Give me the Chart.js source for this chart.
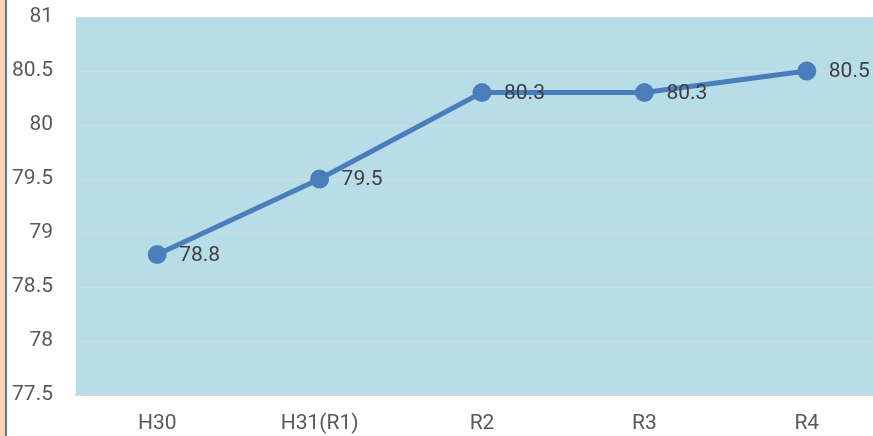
<!DOCTYPE html>
<html>
<head>
<meta charset="utf-8">
<script src="https://cdn.jsdelivr.net/npm/chart.js@4"></script>
<style>
  html, body { margin: 0; padding: 0; background: #fff; }
  #edge { position: absolute; left: 0; top: 0; width: 5px; height: 436px; background: #fcd5b5; z-index: 2; }
  #edgeLine { position: absolute; left: 5px; top: 0; width: 2px; height: 436px; background: #4a7ebb; z-index: 2; }
  #clip { position: absolute; left: 8px; top: 0; width: 865px; height: 436px; overflow: hidden; }
</style>
</head>
<body>
<div id="edge"></div>
<div id="edgeLine"></div>
<div id="clip"><canvas id="lineChart" width="880" height="436"></canvas></div>
<script>
const categories = ['H30', 'H31(R1)', 'R2', 'R3', 'R4'];
const values = [78.8, 79.5, 80.3, 80.3, 80.5];
const yTicks = [77.5, 78, 78.5, 79, 79.5, 80, 80.5, 81];

// light blue plot background
const plotBg = {
    id: 'plotBg',
    beforeDraw(chart) {
        const a = chart.chartArea;
        const ctx = chart.ctx;
        ctx.save();
        ctx.fillStyle = '#b7dde8';
        ctx.fillRect(a.left, a.top, a.right - a.left, a.bottom - a.top);
        ctx.restore();
    }
};

// value labels to the right of each point
const valueLabels = {
    id: 'valueLabels',
    afterDatasetsDraw(chart) {
        const ctx = chart.ctx;
        const meta = chart.getDatasetMeta(0);
        ctx.save();
        ctx.font = '21px Roboto';
        ctx.fillStyle = '#404040';
        ctx.textBaseline = 'middle';
        ctx.textAlign = 'left';
        meta.data.forEach((pt, i) => {
            ctx.fillText(String(values[i]), pt.x + 22, pt.y + 1);
        });
        ctx.restore();
    }
};

const chartContext = document.getElementById('lineChart').getContext('2d');
const lineChart = new Chart(chartContext, {
    type: 'line',
    data: {
        labels: categories,
        datasets: [{
            data: values,
            borderColor: '#4a7ebb',
            backgroundColor: '#4a7ebb',
            borderWidth: 5,
            pointRadius: 7,
            pointHoverRadius: 7,
            tension: 0
        }]
    },
    options: {
        responsive: false,
        animation: false,
        layout: { autoPadding: false, padding: { top: 17, bottom: 0, right: 0, left: 0 } },
        plugins: {
            legend: { display: false },
            tooltip: { enabled: false }
        },
        scales: {
            x: {
                offset: true,
                grid: { display: false, drawTicks: false },
                border: { color: '#d9d9d9', width: 2 },
                afterFit(scale) {
                    scale.height = 41;
                    scale.paddingLeft = 0;
                    scale.paddingRight = 0;
                },
                ticks: { color: '#595959', font: { family: 'Roboto', size: 21 }, padding: 16 }
            },
            y: {
                min: 77.5,
                max: 81,
                afterBuildTicks(scale) { scale.ticks = yTicks.map(v => ({ value: v })); },
                afterFit(scale) {
                    scale.width = 68;
                    scale.paddingTop = 0;
                    scale.paddingBottom = 0;
                },
                grid: { color: '#d9d9d9', lineWidth: 1, drawTicks: false },
                border: { display: false },
                ticks: {
                    color: '#595959',
                    font: { family: 'Roboto', size: 21 },
                    padding: 23,
                    callback: v => String(v)
                }
            }
        }
    },
    plugins: [plotBg, valueLabels]
});
</script>
</body>
</html>
